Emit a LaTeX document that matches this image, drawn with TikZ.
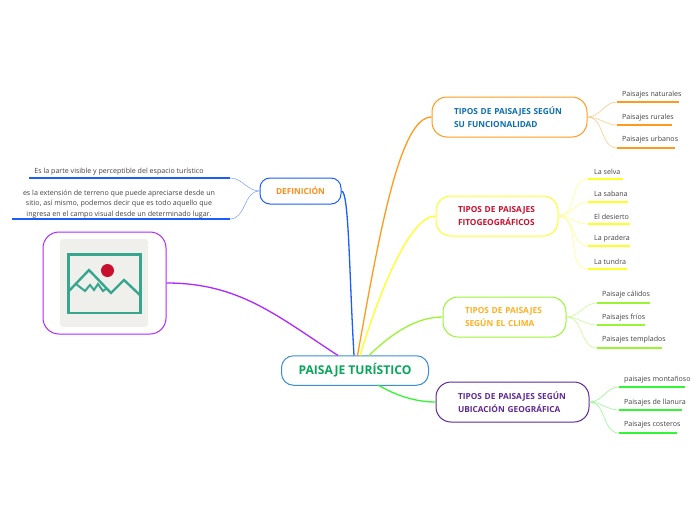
\documentclass[tikz,border=0pt]{standalone}
\usepackage{fontspec}
\setmainfont{Open Sans}
\definecolor{cblue}{HTML}{1A5CFF}
\definecolor{corange}{HTML}{FF9A1F}
\definecolor{cyellow}{HTML}{FFFF26}
\definecolor{clime}{HTML}{99F533}
\definecolor{cgreen}{HTML}{33F533}
\definecolor{cpurple}{HTML}{B026FF}
\definecolor{cteal}{HTML}{38A68F}
\definecolor{cred}{HTML}{C8102E}
\definecolor{cpanel}{HTML}{EFEFEB}
\definecolor{croot}{HTML}{3A8FD0}
\definecolor{troot}{HTML}{0AA55B}
\definecolor{tdefi}{HTML}{FF8C1A}
\definecolor{tfunc}{HTML}{0B6FB0}
\definecolor{tclima}{HTML}{FFB01F}
\definecolor{tubic}{HTML}{5E2A91}
\tikzset{
	topicbox/.style={draw,rectangle,rounded corners=15pt,line width=1pt,fill=white,font=\bfseries\fontsize{8.3}{13.6}\selectfont,align=left,inner sep=0pt},
	leaftext/.style={anchor=west,inner sep=0pt,text=black!75,font=\fontsize{7.1}{8}\selectfont},
	sidetext/.style={align=center,inner sep=0pt,text=black!75,font=\fontsize{7.1}{10.5}\selectfont},
	trunk/.style={line width=1.3pt},
	twig/.style={line width=0.5pt},
	under/.style={line width=1.3pt}
}
\begin{document}
\begin{tikzpicture}[x=1pt,y=-1pt]
	\useasboundingbox (0,0) rectangle (696,520);
	% central topic and branches
	\node[draw=croot,rectangle,rounded corners=12pt,line width=1pt,fill=white,minimum width=147pt,minimum height=29.5pt,inner sep=0pt,text=troot,font=\bfseries\fontsize{12.1}{13}\selectfont] (root)at(355,370.5) {PAISAJE TURÍSTICO};
	\node[topicbox,rounded corners=10pt,draw=cblue,text=tdefi,minimum width=81pt,minimum height=26pt,align=center] (defi)at(300.5,191) {DEFINICIÓN};
	\node[topicbox,draw=corange,text=tfunc,minimum width=155pt,minimum height=40pt,text width=111pt] (func)at(509.5,117) {TIPOS DE PAISAJES SEGÚN\\SU FUNCIONALIDAD};
	\node[topicbox,draw=cyellow,text=cred,minimum width=122pt,minimum height=40pt,text width=78pt] (fito)at(497,216) {TIPOS DE PAISAJES\\FITOGEOGRÁFICOS};
	\node[topicbox,draw=clime,text=tclima,minimum width=123pt,minimum height=40pt,text width=79pt] (clima)at(504.5,317) {TIPOS DE PAISAJES\\SEGÚN EL CLIMA};
	\node[topicbox,draw=tubic,text=tubic,minimum width=153pt,minimum height=40pt,text width=109pt] (ubic)at(512.5,402) {TIPOS DE PAISAJES SEGÚN\\UBICACIÓN GEOGRÁFICA};
	% picture topic
	\node[draw=cpurple,rectangle,rounded corners=16pt,line width=1pt,minimum width=123pt,minimum height=102pt,inner sep=0pt] (foto)at(104.5,283) {};
	\fill[cpanel,rounded corners=3pt] (60,239) rectangle (148,327);
	\draw[cteal,line width=2.8pt] (68.5,254.5) rectangle (140.5,313);
	\draw[cteal,line width=2.4pt] (68,292) -- (89,270) -- (111,293) -- (124,280) -- (141,296);
	\draw[cteal,line width=2pt] (76,284) -- (85,291) -- (90,285) -- (94,290) -- (98,284) -- (103,291) -- (107,288);
	\fill[cred] (107.5,270.5) circle (6.5);
	% anchors on the central topic
	\coordinate (r1)at(338,355.5);
	\coordinate (r2)at(354,355.5);
	\coordinate (r3)at(357.5,355.5);
	\coordinate (r4)at(360,355.5);
	\coordinate (r5)at(369,355.5);
	\coordinate (r6)at(378,385);
	\draw[trunk,cpurple] (foto.east) to[out=0,in=147] (r1);
	\draw[trunk,cblue] (defi.east) .. controls (349,191) and (349,270) .. (r2);
	\draw[trunk,corange] (func.west) .. controls (400,117) and (380,230) .. (r3);
	\draw[trunk,cyellow] (fito.west) .. controls (410,216) and (380,290) .. (r4);
	\draw[trunk,clime] (clima.west) .. controls (415,317) and (390,335) .. (r5);
	\draw[trunk,cgreen] (ubic.west) .. controls (415,402) and (395,395) .. (r6);
	% definition texts
	\node[sidetext] (d1)at(119,171.5) {Es la parte visible y perceptible del espacio turístico};
	\node[sidetext] (d2)at(119,204) {es la extensión de terreno que puede apreciarse desde un\\sitio, así mismo, podemos decir que es todo aquello que\\ingresa en el campo visual desde un determinado lugar.};
	\coordinate (d1a)at(230,178);
	\coordinate (d1b)at(29,178);
	\coordinate (d2a)at(230,219);
	\coordinate (d2b)at(12,219);
	\draw[under,cblue] (d1a) -- (d1b);
	\draw[under,cblue] (d2a) -- (d2b);
	\draw[twig,cblue!60] (defi.west) to[out=180,in=0] (d1a);
	\draw[twig,cblue!60] (defi.west) to[out=180,in=0] (d2a);
	% leaves
	\foreach \name/\tx/\ty/\xa/\xb/\ly/\src/\col/\txt in {
		n1/622/95/617/679/102/func/corange/Paisajes naturales,
		n2/622/118/617/672/125/func/corange/Paisajes rurales,
		n3/622/140/617/675/148/func/corange/Paisajes urbanos,
		f1/594/172/588/623/179/fito/cyellow/La selva,
		f2/594/194/588/628/202/fito/cyellow/La sabana,
		f3/594/217/588/630/224/fito/cyellow/El desierto,
		f4/594/239/588/630/246/fito/cyellow/La pradera,
		f5/594/262/588/627/269/fito/cyellow/La tundra,
		c1/602/295/597/650/303/clima/clime/Paisaje cálidos,
		c2/602/318/597/645/325/clima/clime/Paisajes fríos,
		c3/602/340/597/662/348/clima/clime/Paisajes templados,
		u1/624/380/619/685/387/ubic/cgreen/paisajes montañoso,
		u2/624/403/619/682/410/ubic/cgreen/Paisajes de llanura,
		u3/624/425/619/677/433/ubic/cgreen/Paisajes costeros}
	{
		\node[leaftext] (\name)at(\tx,\ty) {\txt};
		\coordinate (\name a)at(\xa,\ly);
		\coordinate (\name b)at(\xb,\ly);
		\draw[under,\col] (\name a) -- (\name b);
		\draw[twig,\col!60] (\src.east) to[out=0,in=180] (\name a);
	}
\end{tikzpicture}
\end{document}
